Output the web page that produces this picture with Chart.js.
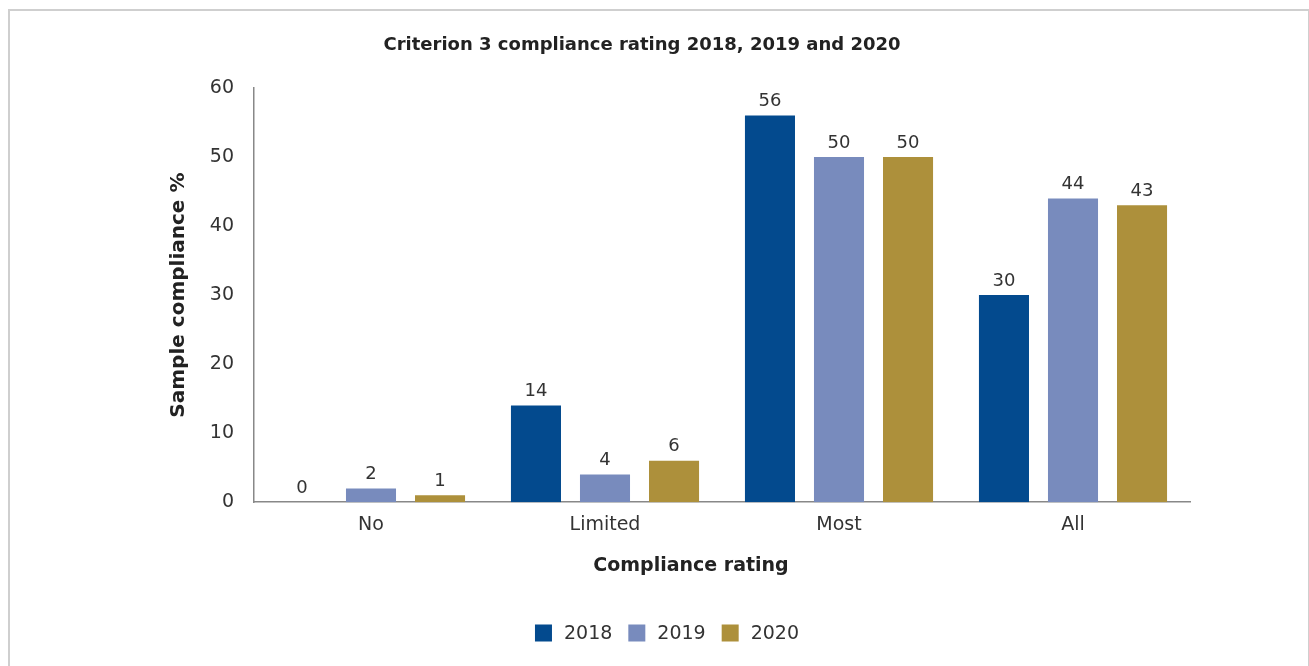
<!DOCTYPE html>
<html>
<head>
<meta charset="utf-8">
<title>Criterion 3 compliance rating</title>
<script src="https://cdn.jsdelivr.net/npm/chart.js@4/dist/chart.umd.min.js"></script>
<style>
  html, body { margin: 0; padding: 0; background: #fff; }
  #frame {
    position: absolute; left: 8px; top: 9px; width: 1298px; height: 700px;
    border: 2px solid #cfcfcf; border-bottom: none;
  }
  #wrap { position: absolute; left: 0; top: 0; width: 1309px; height: 666px; }
</style>
</head>
<body>
<div id="frame"></div>
<div id="wrap"><canvas id="bar-chart" width="1309" height="666"></canvas></div>
<script>
// compliance ratings and yearly results
const categories = ['No', 'Limited', 'Most', 'All'];
const years = ['2018', '2019', '2020'];
const values2018 = [0, 14, 56, 30];
const values2019 = [2, 4, 50, 44];
const values2020 = [1, 6, 50, 43];
const yTicks = [0, 10, 20, 30, 40, 50, 60];

const colours = ['#034a8e', '#788bbd', '#ad903b'];
const fontFamily = '"DejaVu Sans", sans-serif';

// writes each bar's value just above it
const valueLabels = {
    id: 'valueLabels',
    afterDatasetsDraw(chart) {
        const ctx = chart.ctx;
        ctx.save();
        ctx.font = '18px ' + fontFamily;
        ctx.fillStyle = '#333';
        ctx.textAlign = 'center';
        ctx.textBaseline = 'bottom';
        chart.data.datasets.forEach((ds, i) => {
            chart.getDatasetMeta(i).data.forEach((bar, j) => {
                ctx.fillText(ds.data[j], bar.x, bar.y - 5);
            });
        });
        ctx.restore();
    }
};

// title, x axis title and legend sit a little left of the plot centre
const headings = {
    id: 'headings',
    afterDraw(chart) {
        const ctx = chart.ctx;
        ctx.save();
        ctx.fillStyle = '#222';
        ctx.textAlign = 'center';
        ctx.textBaseline = 'middle';
        ctx.font = 'bold 18px ' + fontFamily;
        ctx.fillText('Criterion 3 compliance rating 2018, 2019 and 2020', 642, 45);
        ctx.font = 'bold 19px ' + fontFamily;
        ctx.fillText('Compliance rating', 691, 566);

        // legend row
        ctx.font = '19px ' + fontFamily;
        ctx.textAlign = 'left';
        const box = 17, gap = 12, spacing = 16;
        const items = chart.data.datasets.map(ds => ({
            text: ds.label, colour: ds.backgroundColor, w: box + gap + ctx.measureText(ds.label).width
        }));
        const total = items.reduce((s, it) => s + it.w, 0) + spacing * (items.length - 1);
        let x = 667 - total / 2;
        const y = 633;
        items.forEach(it => {
            ctx.fillStyle = it.colour;
            ctx.fillRect(x, y - box / 2, box, box);
            ctx.fillStyle = '#333';
            ctx.fillText(it.text, x + box + gap, y + 1);
            x += it.w + spacing;
        });
        ctx.restore();
    }
};

new Chart(document.getElementById('bar-chart'), {
    type: 'bar',
    data: {
        labels: categories,
        datasets: [
            { label: years[0], data: values2018, backgroundColor: colours[0] },
            { label: years[1], data: values2019, backgroundColor: colours[1] },
            { label: years[2], data: values2020, backgroundColor: colours[2] }
        ]
    },
    options: {
        responsive: false,
        animation: false,
        datasets: { bar: { categoryPercentage: 0.885, barPercentage: 0.725 } },
        layout: { padding: { left: 167, right: 119, top: 88, bottom: 119 } },
        plugins: {
            title: { display: false },
            legend: { display: false },
            tooltip: { enabled: false }
        },
        scales: {
            x: {
                grid: { display: false, drawTicks: false },
                border: { display: true, color: '#888', width: 1.5 },
                ticks: { color: '#333', font: { family: fontFamily, size: 19 }, padding: 11 }
            },
            y: {
                min: 0,
                max: 60,
                afterBuildTicks(scale) { scale.ticks = yTicks.map(v => ({ value: v })); },
                afterFit(scale) { scale.width = 87; },
                grid: { display: false, drawTicks: false },
                border: { display: true, color: '#888', width: 1.5 },
                ticks: { color: '#333', font: { family: fontFamily, size: 19 }, padding: 20 },
                title: {
                    display: true,
                    text: 'Sample compliance %',
                    color: '#222',
                    font: { family: fontFamily, size: 20, weight: 'bold' },
                    padding: 0
                }
            }
        }
    },
    plugins: [valueLabels, headings]
});
</script>
</body>
</html>
